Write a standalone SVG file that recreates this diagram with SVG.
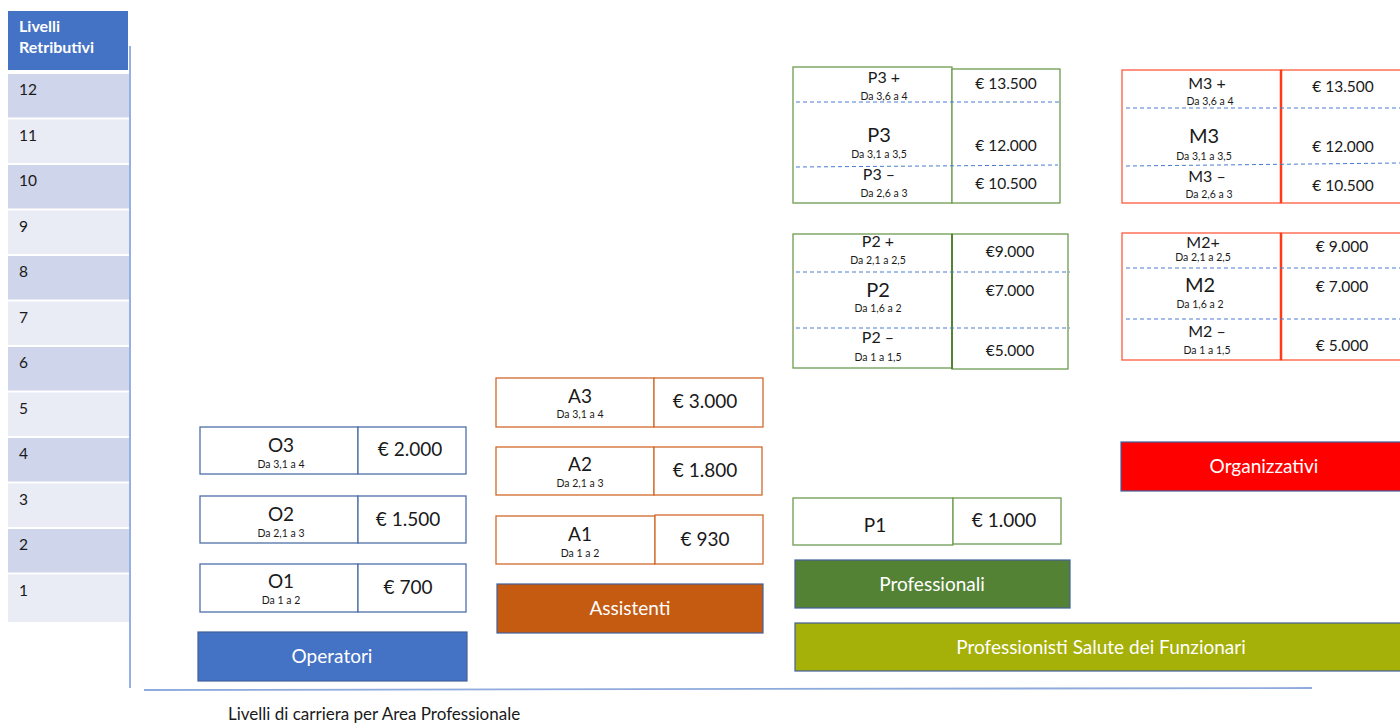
<svg xmlns="http://www.w3.org/2000/svg" width="1400" height="724" viewBox="0 0 1400 724">
<style>
text{font-family:Lato,"Open Sans","Liberation Sans",sans-serif;fill:#1a1a1a}
.mid{text-anchor:middle}
.lab{font-size:19px}
.sub{font-size:10.5px}
.val{font-size:19px}
.pl{font-size:16px}
.pv{font-size:15.5px}
.big{font-size:20px}
.rowd{fill:#CFD5EA}
.rowl{fill:#E9EBF5}
.num{font-size:15.5px}
.ob{fill:#fff;stroke:#4F6FA8;stroke-width:1.3}
.ab{fill:#fff;stroke:#D2692A;stroke-width:1.3}
.pb{fill:#fff;stroke:#6E9C50;stroke-width:1.3}
.mb{fill:#fff;stroke:#FF5A3C;stroke-width:1.3}
.dash{stroke:#4A7BD0;stroke-width:1;stroke-dasharray:4 3;fill:none}
.cat{stroke:#41609B;stroke-width:1.2}
.ct{fill:#fff;font-size:19px;text-anchor:middle}
</style>

<g id="levels">
<rect x="8" y="11" width="120" height="59" fill="#4472C4"/>
<text x="19" y="32" style="font-size:16px;font-weight:bold;fill:#fff">Livelli</text>
<text x="19" y="53" style="font-size:16px;font-weight:bold;fill:#fff">Retributivi</text>
<rect class="rowd" x="8" y="74" width="121" height="43.5"/>
<rect class="rowl" x="8" y="119.5" width="121" height="43.5"/>
<rect class="rowd" x="8" y="165" width="121" height="43.5"/>
<rect class="rowl" x="8" y="210.5" width="121" height="43.5"/>
<rect class="rowd" x="8" y="256" width="121" height="43.5"/>
<rect class="rowl" x="8" y="301.5" width="121" height="43.5"/>
<rect class="rowd" x="8" y="347" width="121" height="43.5"/>
<rect class="rowl" x="8" y="392.5" width="121" height="43.5"/>
<rect class="rowd" x="8" y="438" width="121" height="43.5"/>
<rect class="rowl" x="8" y="483.5" width="121" height="43.5"/>
<rect class="rowd" x="8" y="529" width="121" height="43.5"/>
<rect class="rowl" x="8" y="574.5" width="121" height="47.5"/>
<text class="num" x="19" y="95">12</text>
<text class="num" x="19" y="140.5">11</text>
<text class="num" x="19" y="186">10</text>
<text class="num" x="19" y="231.5">9</text>
<text class="num" x="19" y="277">8</text>
<text class="num" x="19" y="322.5">7</text>
<text class="num" x="19" y="368">6</text>
<text class="num" x="19" y="413.5">5</text>
<text class="num" x="19" y="459">4</text>
<text class="num" x="19" y="504.5">3</text>
<text class="num" x="19" y="550">2</text>
<text class="num" x="19" y="595.5">1</text>
</g>

<g id="axes">
<line x1="130" y1="46" x2="130" y2="688" stroke="#5B86D6" stroke-width="1.3"/>
<line x1="144" y1="690" x2="1312" y2="688" stroke="#8FAADC" stroke-width="1.8"/>
<text x="228" y="720" style="font-size:17px">Livelli di carriera per Area Professionale</text>
</g>

<g id="O3">
<rect class="ob" x="200" y="427" width="158" height="47"/>
<rect class="ob" x="358" y="427" width="108" height="47"/>
<text class="mid lab" x="281" y="452">O3</text>
<text class="mid sub" x="281" y="468">Da 3,1 a 4</text>
<text class="mid val" x="410" y="456">€ 2.000</text>
</g>
<g id="O2">
<rect class="ob" x="200" y="496" width="158" height="47"/>
<rect class="ob" x="358" y="496" width="108" height="47"/>
<text class="mid lab" x="281" y="521">O2</text>
<text class="mid sub" x="281" y="537">Da 2,1 a 3</text>
<text class="mid val" x="408" y="526">€ 1.500</text>
</g>
<g id="O1">
<rect class="ob" x="200" y="564" width="158" height="48"/>
<rect class="ob" x="358" y="564" width="108" height="48"/>
<text class="mid lab" x="281" y="588">O1</text>
<text class="mid sub" x="281" y="604">Da 1 a 2</text>
<text class="mid val" x="408" y="594">€ 700</text>
</g>
<g id="Operatori">
<rect class="cat" x="198" y="632" width="269" height="49" fill="#4472C4"/>
<text class="ct" x="332" y="663">Operatori</text>
</g>

<g id="A3">
<rect class="ab" x="496" y="378" width="158" height="49"/>
<rect class="ab" x="654" y="378" width="109" height="49"/>
<text class="mid lab" x="580" y="403">A3</text>
<text class="mid sub" x="580" y="418">Da 3,1 a 4</text>
<text class="mid val" x="705" y="408">€ 3.000</text>
</g>
<g id="A2">
<rect class="ab" x="496" y="447" width="158" height="48"/>
<rect class="ab" x="654" y="447" width="108" height="48"/>
<text class="mid lab" x="580" y="471">A2</text>
<text class="mid sub" x="580" y="487">Da 2,1 a 3</text>
<text class="mid val" x="705" y="477">€ 1.800</text>
</g>
<g id="A1">
<rect class="ab" x="496" y="516" width="159" height="48"/>
<rect class="ab" x="655" y="515" width="108" height="49"/>
<text class="mid lab" x="580" y="541">A1</text>
<text class="mid sub" x="580" y="557">Da 1 a 2</text>
<text class="mid val" x="705" y="546">€ 930</text>
</g>
<g id="Assistenti">
<rect class="cat" x="497" y="584" width="266" height="49" fill="#C55A11"/>
<text class="ct" x="630" y="615">Assistenti</text>
</g>

<g id="P3">
<rect class="pb" x="793" y="67" width="159" height="136"/>
<rect class="pb" x="952" y="69" width="108" height="134"/>
<line class="dash" x1="796" y1="102" x2="1062" y2="102"/>
<line class="dash" x1="796" y1="167" x2="1058" y2="165"/>
<text class="mid pl" x="884" y="83">P3 +</text>
<text class="mid sub" x="884" y="100">Da 3,6 a 4</text>
<text class="mid big" x="879" y="142">P3</text>
<text class="mid sub" x="879" y="158">Da 3,1 a 3,5</text>
<text class="mid pl" x="879" y="180">P3 –</text>
<text class="mid sub" x="884" y="197">Da 2,6 a 3</text>
<text class="mid pv" x="1006" y="89">€ 13.500</text>
<text class="mid pv" x="1006" y="151">€ 12.000</text>
<text class="mid pv" x="1006" y="189">€ 10.500</text>
</g>

<g id="M3">
<rect class="mb" x="1122" y="70" width="159" height="133"/>
<rect class="mb" x="1281" y="70" width="140" height="133"/>
<line x1="1281" y1="70" x2="1281" y2="203" stroke="#FF3A14" stroke-width="2.5"/>
<line class="dash" x1="1126" y1="108" x2="1400" y2="108"/>
<line class="dash" x1="1126" y1="166" x2="1400" y2="163"/>
<text class="mid pl" x="1207" y="89">M3 +</text>
<text class="mid sub" x="1210" y="105">Da 3,6 a 4</text>
<text class="mid big" x="1204" y="143">M3</text>
<text class="mid sub" x="1204" y="160">Da 3,1 a 3,5</text>
<text class="mid pl" x="1207" y="182">M3 –</text>
<text class="mid sub" x="1209" y="198">Da 2,6 a 3</text>
<text class="mid pv" x="1343" y="92">€ 13.500</text>
<text class="mid pv" x="1343" y="152">€ 12.000</text>
<text class="mid pv" x="1343" y="191">€ 10.500</text>
</g>

<g id="P2">
<rect class="pb" x="793" y="234" width="159" height="134"/>
<rect class="pb" x="952" y="234" width="116" height="135"/>
<line x1="952" y1="234" x2="952" y2="369" stroke="#548235" stroke-width="2"/>
<line class="dash" x1="796" y1="272" x2="1070" y2="272"/>
<line class="dash" x1="796" y1="328" x2="1070" y2="328"/>
<text class="mid pl" x="878" y="247">P2 +</text>
<text class="mid sub" x="878" y="264">Da 2,1 a 2,5</text>
<text class="mid big" x="878" y="297">P2</text>
<text class="mid sub" x="878" y="312">Da 1,6 a 2</text>
<text class="mid pl" x="878" y="343">P2 –</text>
<text class="mid sub" x="878" y="361">Da 1 a 1,5</text>
<text class="mid pv" x="1010" y="257">€9.000</text>
<text class="mid pv" x="1010" y="296">€7.000</text>
<text class="mid pv" x="1010" y="356">€5.000</text>
</g>

<g id="M2">
<rect class="mb" x="1122" y="233" width="159" height="127"/>
<rect class="mb" x="1281" y="233" width="140" height="127"/>
<line x1="1281" y1="233" x2="1281" y2="360" stroke="#FF3A14" stroke-width="2.5"/>
<line class="dash" x1="1126" y1="268" x2="1400" y2="268"/>
<line class="dash" x1="1126" y1="319" x2="1400" y2="319"/>
<text class="mid pl" x="1203" y="248">M2+</text>
<text class="mid sub" x="1203" y="261">Da 2,1 a 2,5</text>
<text class="mid big" x="1200" y="292">M2</text>
<text class="mid sub" x="1200" y="308">Da 1,6 a 2</text>
<text class="mid pl" x="1207" y="337">M2 –</text>
<text class="mid sub" x="1207" y="354">Da 1 a 1,5</text>
<text class="mid pv" x="1342" y="252">€ 9.000</text>
<text class="mid pv" x="1342" y="292">€ 7.000</text>
<text class="mid pv" x="1342" y="351">€ 5.000</text>
</g>

<g id="Organizzativi">
<rect class="cat" x="1121" y="442" width="300" height="49" fill="#FF0000"/>
<text class="ct" x="1264" y="473">Organizzativi</text>
</g>

<g id="P1">
<rect class="pb" x="793" y="498" width="160" height="47"/>
<rect class="pb" x="953" y="498" width="108" height="46"/>
<text class="mid lab" x="875" y="532">P1</text>
<text class="mid val" x="1004" y="527">€ 1.000</text>
</g>

<g id="Professionali">
<rect class="cat" x="795" y="560" width="275" height="48" fill="#548235"/>
<text class="ct" x="932" y="591">Professionali</text>
</g>

<g id="ProfessionistiSalute">
<rect class="cat" x="795" y="623" width="626" height="48" fill="#A5B008"/>
<text class="ct" x="1101" y="654">Professionisti Salute dei Funzionari</text>
</g>

<g id="connectors"></g>
</svg>
